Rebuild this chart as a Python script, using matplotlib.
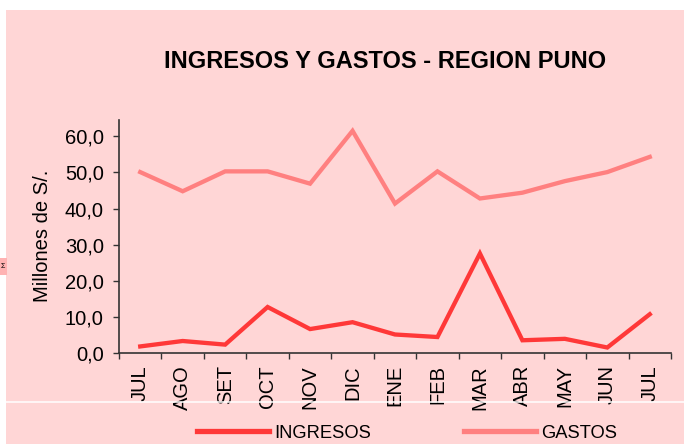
import numpy as np
import matplotlib
matplotlib.use("Agg")
import matplotlib.pyplot as plt
from matplotlib.patches import Rectangle
from matplotlib.lines import Line2D

plt.rcParams['font.family'] = ['Liberation Sans', 'DejaVu Sans']

meses = ["JUL", "AGO", "SET", "OCT", "NOV", "DIC", "ENE", "FEB", "MAR", "ABR", "MAY", "JUN", "JUL"]
ingresos = [1.9, 3.4, 2.4, 12.8, 6.7, 8.6, 5.2, 4.5, 27.6, 3.6, 4.0, 1.6, 10.8]
gastos = [50.1, 44.8, 50.3, 50.3, 46.9, 61.5, 41.4, 50.3, 42.8, 44.4, 47.6, 50.1, 54.3]
yticks = [0, 10, 20, 30, 40, 50, 60]

rosa = '#ffd6d6'
c_ing = '#ff3838'
c_gas = '#ff8080'

W, H = 684, 444
fig = plt.figure(figsize=(W / 100, H / 100), dpi=100, facecolor='white')

# pink background of the chart area
fig.add_artist(Rectangle((6 / W, 0), 1 - 6 / W, 1 - 10 / H, transform=fig.transFigure,
                         facecolor=rosa, edgecolor='none', zorder=-10))

ax = fig.add_axes([119 / W, 1 - 353.3 / H, 552 / W, 233.3 / H])
ax.set_facecolor('none')

x = np.arange(len(meses))
ax.plot(x, ingresos, color=c_ing, lw=3.1, solid_joinstyle='miter')
ax.plot(x, gastos, color=c_gas, lw=3.1, solid_joinstyle='miter')

ax.set_xlim(-0.5, len(meses) - 0.5)
ax.set_ylim(0, 64.5)
ax.set_yticks(yticks)
ax.set_yticklabels([f"{v:.1f}".replace('.', ',') for v in yticks], fontsize=14.5)
ax.set_xticks(x)
ax.set_xticklabels(meses, rotation=90, fontsize=14.5)
ax.set_xticks(np.arange(-0.5, len(meses)), minor=True)
ax.tick_params(axis='x', which='major', length=0, pad=8.6)
ax.tick_params(axis='x', which='minor', length=4, width=1, color='#333333', direction='out')
ax.tick_params(axis='y', length=4, width=1, color='#333333', pad=7)

for s in ['top', 'right']:
    ax.spines[s].set_visible(False)
for s in ['left', 'bottom']:
    ax.spines[s].set_color('#333333')
    ax.spines[s].set_linewidth(1.2)

fig.text(42 / W, 1 - 236 / H, "Millones de S/.", rotation=90, ha='center', va='center', fontsize=14.5)
fig.text(385.5 / W, 1 - 62 / H, "INGRESOS Y GASTOS - REGION PUNO", ha='center', va='center',
         fontsize=17, fontweight='bold')

handles = [Line2D([], [], color=c_ing, lw=3.8), Line2D([], [], color=c_gas, lw=3.8)]
fig.legend(handles, ["INGRESOS", "GASTOS"], loc='center', bbox_to_anchor=(407 / W, 1 - 433 / H),
           ncol=2, frameon=False, fontsize=13.2, handlelength=3.93, handletextpad=0.27,
           columnspacing=5.1, borderpad=0, borderaxespad=0)

# thin white line across the lower area
fig.add_artist(Line2D([6 / W, 1], [1 - 402 / H, 1 - 402 / H], transform=fig.transFigure,
                      color='white', lw=1.1, zorder=10))

# small box at the left edge
fig.add_artist(Rectangle((0, 1 - 275 / H), 7 / W, 17 / H, transform=fig.transFigure,
                         facecolor='#ffb3b3', edgecolor='none', zorder=5))
fig.text(0.5 / W, 1 - 266.5 / H, "Σ", ha='left', va='center', fontsize=5, zorder=6)

fig.savefig("out.png", dpi=100, facecolor=fig.get_facecolor())
